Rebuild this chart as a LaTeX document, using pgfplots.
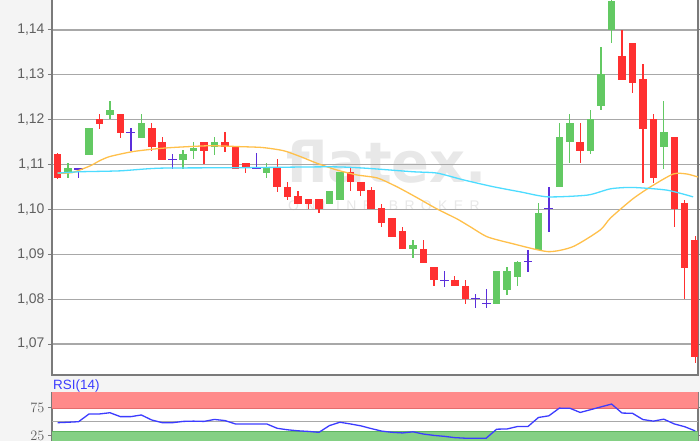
\documentclass[border=0pt]{standalone}
\usepackage{pgfplots}
\pgfplotsset{compat=1.18}
\usepackage{pgfplotstable}
\usepackage{fontspec}
\setmainfont{Liberation Sans}
\newfontfamily\wmfont{DejaVu Sans}
\definecolor{cgreen}{HTML}{63C963}
\definecolor{cred}{HTML}{FF3030}
\definecolor{cdoji}{HTML}{5B2EDB}
\definecolor{corange}{HTML}{FFC04A}
\definecolor{ccyan}{HTML}{4DDCFF}
\definecolor{cgrid}{HTML}{A8A8A8}
\definecolor{cframe}{HTML}{7A7A7A}
\definecolor{cbg}{HTML}{F4F4F4}
\definecolor{ctick}{HTML}{606060}
\definecolor{crsi}{HTML}{3C3CFF}
\definecolor{cbandr}{HTML}{FF8A8A}
\definecolor{cbandrl}{HTML}{E46C6C}
\definecolor{cbandg}{HTML}{84D084}
\definecolor{cbandgl}{HTML}{5FB45F}
\definecolor{cwm}{HTML}{E8E8E8}

\pgfplotstableread{
i o h l c
1 1.1083 1.1103 1.1069 1.1092
3 1.1121 1.1181 1.1121 1.1181
5 1.1211 1.1242 1.1201 1.1222
8 1.1160 1.1213 1.1160 1.1192
12 1.1110 1.1133 1.1090 1.1124
13 1.1131 1.1151 1.1112 1.1138
15 1.1140 1.1161 1.1121 1.1151
20 1.1082 1.1103 1.1069 1.1092
26 1.1012 1.1042 1.1012 1.1042
27 1.1021 1.1084 1.1021 1.1084
34 1.0911 1.0932 1.0891 1.0921
42 1.0789 1.0863 1.0789 1.0863
43 1.0820 1.0872 1.0809 1.0863
44 1.0850 1.0884 1.0829 1.0884
46 1.0910 1.1014 1.0910 1.0993
48 1.1049 1.1192 1.1049 1.1161
49 1.1151 1.1213 1.1103 1.1192
51 1.1131 1.1222 1.1124 1.1201
52 1.1231 1.1363 1.1222 1.1302
53 1.1400 1.1475 1.1370 1.1465
58 1.1140 1.1242 1.1090 1.1172
}\greentab

\pgfplotstableread{
i o h l c
0 1.1124 1.1125 1.1068 1.1069
4 1.1201 1.1213 1.1179 1.1190
6 1.1213 1.1213 1.1159 1.1170
9 1.1181 1.1192 1.1131 1.1140
10 1.1151 1.1161 1.1110 1.1110
14 1.1151 1.1151 1.1101 1.1131
16 1.1151 1.1172 1.1129 1.1140
17 1.1139 1.1140 1.1090 1.1091
18 1.1103 1.1104 1.1082 1.1092
21 1.1092 1.1112 1.1040 1.1049
22 1.1051 1.1062 1.1021 1.1028
23 1.1030 1.1042 1.1012 1.1012
24 1.1023 1.1023 1.1000 1.1012
25 1.1023 1.1023 1.0991 1.1000
28 1.1084 1.1092 1.1040 1.1062
29 1.1062 1.1062 1.1030 1.1042
30 1.1043 1.1051 1.1000 1.1000
31 1.1003 1.1012 1.0960 1.0970
32 1.0980 1.0980 1.0939 1.0939
33 1.0953 1.0962 1.0911 1.0911
35 1.0912 1.0932 1.0881 1.0881
36 1.0872 1.0872 1.0829 1.0843
38 1.0843 1.0852 1.0830 1.0830
39 1.0830 1.0843 1.0789 1.0800
50 1.1151 1.1192 1.1103 1.1131
54 1.1342 1.1400 1.1289 1.1289
55 1.1372 1.1372 1.1260 1.1281
56 1.1291 1.1324 1.1060 1.1179
57 1.1201 1.1213 1.1060 1.1069
59 1.1161 1.1161 1.0960 1.1000
60 1.1014 1.1021 1.0800 1.0869
61 1.0932 1.0941 1.0658 1.0672
}\redtab

\pgfplotstableread{
i p h l
2 1.1090 1.1092 1.1069
7 1.1172 1.1182 1.1130
11 1.1112 1.1124 1.1090
19 1.1092 1.1125 1.1091
37 1.0841 1.0863 1.0828
40 1.0802 1.0812 1.0780
41 1.0791 1.0822 1.0780
45 1.0884 1.0910 1.0861
47 1.1002 1.1051 1.0950
}\dojitab

\pgfplotstableread{
i v
0 48.2
1 49
2 50
3 63.8
4 63.8
5 66
6 59
7 59
8 62
9 53
10 48.2
11 48.2
12 50.5
13 51
14 50.5
15 54
16 52
17 46
18 46
19 46
20 46
21 38.2
22 35.5
23 33.7
24 32.6
25 31
26 43
27 49
28 46
29 42.6
30 37.7
31 33.2
32 31
33 29.9
34 31.9
35 27.9
36 25.5
37 23.8
38 21.5
39 20.5
40 20.5
41 20.5
42 36.6
43 37
44 41.4
45 41.4
46 57.5
47 60.5
48 74.2
49 74
50 66.5
51 71.5
52 76.5
53 81.5
54 65.4
55 65
56 53.8
57 51
58 54.5
59 46
60 41
61 33.5
}\rsitab

\newcommand\candles[2]{%
  \addplot[draw=none, no markers, forget plot,
    error bars/.cd, y dir=both, y explicit, error mark=none,
    error bar style={draw=#2, solid, line width=1.3bp}]
    table[x=i, y expr={(\thisrow{h}+\thisrow{l})/2}, y error expr={(\thisrow{h}-\thisrow{l})/2}] {#1};
  \addplot[draw=none, no markers, forget plot,
    error bars/.cd, y dir=both, y explicit, error mark=none,
    error bar style={draw=#2, solid, line width=7.5bp}]
    table[x=i, y expr={(\thisrow{o}+\thisrow{c})/2}, y error expr={abs(\thisrow{o}-\thisrow{c})/2}] {#1};
}
\def\ls{\kern6.4bp}

\begin{document}
\begin{tikzpicture}[x=1bp,y=1bp]
\useasboundingbox (0,0) rectangle (700,441);
\fill[cbg] (0,0) rectangle (700,441);
\fill[white] (52,66) rectangle (698,441);
\fill[white] (52,0) rectangle (698,48.7);
\node[anchor=base west, inner sep=0, text=cwm, font=\wmfont\bfseries\fontsize{56}{60}\selectfont] at (286,258) {flatex.};
\node[anchor=base west, inner sep=0, text=cwm, font=\fontsize{14}{16}\selectfont] at (288,230) {O\ls N\ls L\ls I\ls N\ls E\ls\ \ls B\ls R\ls O\ls K\ls E\ls R};
\node[anchor=base west, inner sep=0, text=crsi, font=\fontsize{13.5}{15}\selectfont] at (53,51) {RSI(14)};

\begin{axis}[at={(52bp,66bp)}, anchor=south west, width=646bp, height=381bp, scale only axis,
  xmin=-0.545, xmax=61.27, ymin=1.063094, ymax=1.148026,
  axis line style={cframe, line width=1.2bp},
  xtick=\empty,
  ytick={1.07,1.08,1.09,1.10,1.11,1.12,1.13,1.14},
  yticklabels={{1,07},{1,08},{1,09},{1,10},{1,11},{1,12},{1,13},{1,14}},
  ymajorgrids, grid style={cgrid, line width=1.2bp},
  tick align=outside, major tick length=4bp, tick style={cframe, line width=1bp},
  yticklabel style={font=\fontsize{14}{16}\selectfont, text=ctick},
  clip=true]
\candles{\greentab}{cgreen}
\candles{\redtab}{cred}
\addplot[draw=none, no markers, forget plot,
    error bars/.cd, y dir=both, x dir=both, y explicit, x fixed=0.42, error mark=none,
    error bar style={draw=cdoji, solid, line width=1.3bp}]
    table[x=i, y=p, y error plus expr={\thisrow{h}-\thisrow{p}}, y error minus expr={\thisrow{p}-\thisrow{l}}] {\dojitab};
\addplot[corange, line width=1.3bp, smooth, tension=0.4] coordinates {
(0,1.1081) (1.37,1.1082) (3.09,1.1097) (4.05,1.1109) (5.0,1.1118) (7.2,1.1129) (9.79,1.1136) (11.7,1.1139) (14.6,1.1142) (17.4,1.1140) (19.6,1.1138) (21.6,1.1131) (23.2,1.1118) (24.8,1.1103) (26.7,1.1088) (28.6,1.1077) (30.6,1.1070) (32.5,1.1050) (34.4,1.1026) (36.3,1.1001) (38.2,1.0979) (39.5,1.0961) (41.1,1.0939) (43.3,1.0925) (46.9,1.0906) (49.3,1.0917) (51.9,1.0954) (52.9,1.0981) (55.0,1.1023) (56.7,1.1050) (58.9,1.1079) (60.2,1.1079) (61.3,1.1072)};
\addplot[ccyan, line width=1.3bp, smooth, tension=0.4] coordinates {
(0,1.1081) (2.13,1.1084) (5.96,1.1086) (9.8,1.1092) (17.4,1.1093) (26.1,1.1095) (29.4,1.1092) (34.0,1.1084) (36.3,1.1081) (38.8,1.1066) (41.6,1.1051) (44.3,1.1039) (46.9,1.1028) (50.7,1.1032) (52.9,1.1046) (55.0,1.1049) (58.3,1.1043) (60.8,1.1028)};
\end{axis}

\begin{axis}[at={(52bp,0bp)}, anchor=south west, width=646bp, height=48.7bp, scale only axis,
  xmin=-0.545, xmax=61.27, ymin=15.5, ymax=102.5,
  axis line style={cframe, line width=1.2bp},
  xtick=\empty, ytick={25,75},
  tick align=outside, major tick length=4bp, tick style={cframe, line width=1bp},
  yticklabel style={font=\fontsize{14}{16}\selectfont, text=ctick},
  clip=true]
\addplot[fill=cbandr, draw=none] coordinates {(-1,72.7) (62,72.7) (62,104) (-1,104)} -- cycle;
\addplot[fill=cbandg, draw=none] coordinates {(-1,10) (62,10) (62,32.1) (-1,32.1)} -- cycle;
\addplot[cbandrl, line width=1bp] coordinates {(-1,72.7) (62,72.7)};
\addplot[cbandgl, line width=1bp] coordinates {(-1,32.1) (62,32.1)};
\addplot[cgrid, line width=1.2bp] coordinates {(-1,50) (62,50)};
\addplot[crsi, line width=1.3bp] table[x=i, y=v] {\rsitab};
\end{axis}
\end{tikzpicture}
\end{document}
